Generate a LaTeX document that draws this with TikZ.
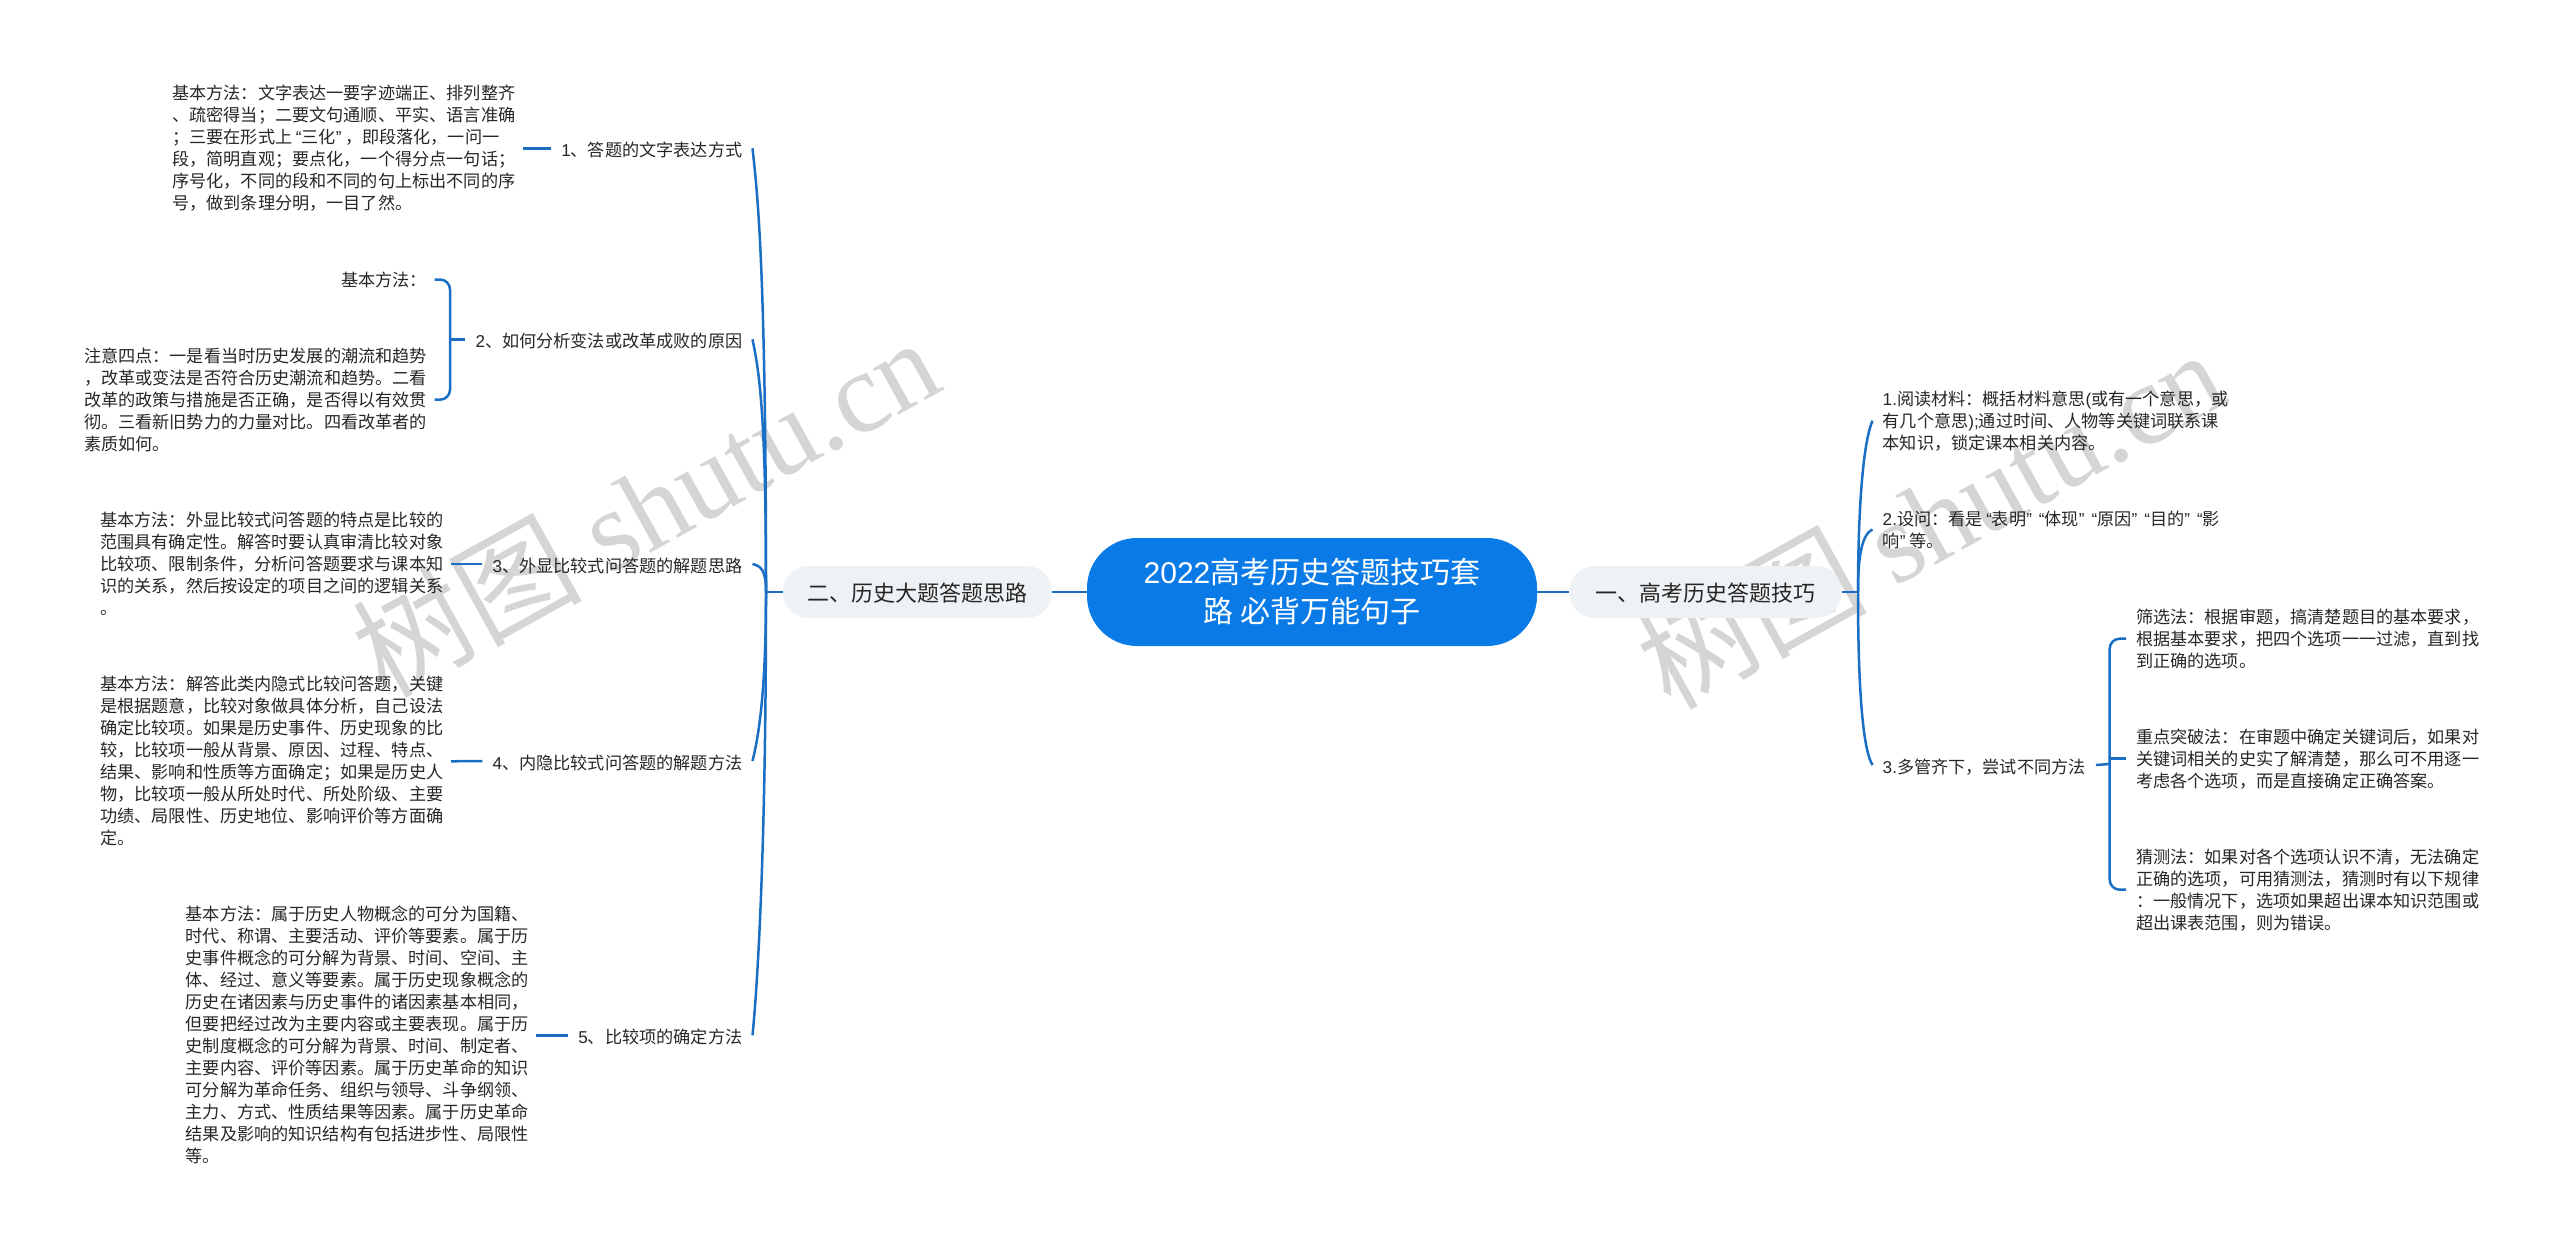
\documentclass[tikz,border=0pt]{standalone}
\usepackage{fontspec}
\setmainfont{Noto Sans CJK SC}
\newfontfamily\markfont{Liberation Serif}
\newfontfamily\latfont{Liberation Sans}
\newcommand{\lat}[1]{{\latfont #1}}
\newcommand{\oq}{\makebox[9.2pt][r]{\latfont “}}
\newcommand{\cq}{\makebox[9.2pt][l]{\latfont ”}}
\definecolor{linkblue}{HTML}{1A6FC4}
\definecolor{rootblue}{HTML}{0A7AE6}
\definecolor{pillgray}{HTML}{EFF2F5}
\definecolor{markgray}{HTML}{D5D5D5}
\tikzset{
	link/.style={draw=linkblue,line width=2.5pt},
	bracket/.style={link,rounded corners=10pt},
	txtblock/.style={inner xsep=7.5pt,inner ysep=0pt,align=left,font=\fontsize{17.15}{22}\selectfont,text=black!85},
	item/.style={txtblock,inner xsep=10pt},
	oneline/.style={item,text height=18pt,text depth=2pt},
	pill/.style={fill=pillgray,rounded corners=25pt,minimum height=52pt,inner sep=0pt,text height=22pt,text depth=3pt,font=\fontsize{22}{28}\selectfont,text=black!85},
	root/.style={fill=rootblue,text=white,rounded corners=50pt,minimum width=450pt,minimum height=108pt,inner sep=0pt,align=center,font=\fontsize{30}{39}\selectfont},
	watermark/.style={rotate=29,text=markgray,inner sep=0pt,font=\fontsize{115}{115}\selectfont}
}
\begin{document}
\begin{tikzpicture}[x=1pt,y=-1pt]
	\useasboundingbox (0,0) rectangle (2560,1250);
	\node[watermark] (markL) at (645,506) {树图 {\markfont shutu.cn}};
	\node[watermark] (markR) at (1930,518) {树图 {\markfont shutu.cn}};

	\node[root] (title) at (1312,592) {\lat{2022}高考历史答题技巧套\\路 必背万能句子};
	\node[pill,minimum width=272pt] (partOne) at (1705.5,592) {一、高考历史答题技巧};
	\node[pill,minimum width=269pt] (partTwo) at (917.5,592) {二、历史大题答题思路};
	\coordinate (busL) at (766,592);
	\coordinate (busR) at (1858,592);
	\draw[link] (partTwo.east) -- (title.west);
	\draw[link] (title.east) -- (partOne.west);
	\draw[link] (busL) -- (partTwo.west);
	\draw[link] (partOne.east) -- (busR);

	\node[oneline,anchor=east] (leftA) at (752.5,148.3) {\lat{1}、答题的文字表达方式};
	\node[oneline,anchor=east] (leftB) at (752.5,339.3) {\lat{2}、如何分析变法或改革成败的原因};
	\node[oneline,anchor=east] (leftC) at (752.5,564) {\lat{3}、外显比较式问答题的解题思路};
	\node[oneline,anchor=east] (leftD) at (752.5,761) {\lat{4}、内隐比较式问答题的解题方法};
	\node[oneline,anchor=east] (leftE) at (752.5,1035.3) {\lat{5}、比较项的确定方法};

	\draw[link] (busL) .. controls (766,260) and (757,190) .. (leftA.east);
	\draw[link] (busL) .. controls (766,420) and (760,375) .. (leftB.east);
	\draw[link] (busL) .. controls (766,570) and (761,566) .. (leftC.east);
	\draw[link] (busL) .. controls (766,690) and (759,735) .. (leftD.east);
	\draw[link] (busL) .. controls (766,860) and (757,990) .. (leftE.east);

	\node[txtblock,anchor=east] (textA) at (523,148.3) {基本方法：文字表达一要字迹端正、排列整齐\\
		、疏密得当；二要文句通顺、平实、语言准确\\
		；三要在形式上\oq 三化\cq ，即段落化，一问一\\
		段，简明直观；要点化，一个得分点一句话；\\
		序号化，不同的段和不同的句上标出不同的序\\
		号，做到条理分明，一目了然。};
	\node[txtblock,anchor=east] (methodB) at (434.7,279.5) {基本方法：};
	\node[txtblock,anchor=east] (noteB) at (434.7,399.7) {注意四点：一是看当时历史发展的潮流和趋势\\
		，改革或变法是否符合历史潮流和趋势。二看\\
		改革的政策与措施是否正确，是否得以有效贯\\
		彻。三看新旧势力的力量对比。四看改革者的\\
		素质如何。};
	\node[txtblock,anchor=east] (textC) at (451,564) {基本方法：外显比较式问答题的特点是比较的\\
		范围具有确定性。解答时要认真审清比较对象\\
		比较项、限制条件，分析问答题要求与课本知\\
		识的关系，然后按设定的项目之间的逻辑关系\\
		。};
	\node[txtblock,anchor=east] (textD) at (451,761.3) {基本方法：解答此类内隐式比较问答题，关键\\
		是根据题意，比较对象做具体分析，自己设法\\
		确定比较项。如果是历史事件、历史现象的比\\
		较，比较项一般从背景、原因、过程、特点、\\
		结果、影响和性质等方面确定；如果是历史人\\
		物，比较项一般从所处时代、所处阶级、主要\\
		功绩、局限性、历史地位、影响评价等方面确\\
		定。};
	\node[txtblock,anchor=east] (textE) at (536.4,1035.3) {基本方法：属于历史人物概念的可分为国籍、\\
		时代、称谓、主要活动、评价等要素。属于历\\
		史事件概念的可分解为背景、时间、空间、主\\
		体、经过、意义等要素。属于历史现象概念的\\
		历史在诸因素与历史事件的诸因素基本相同，\\
		但要把经过改为主要内容或主要表现。属于历\\
		史制度概念的可分解为背景、时间、制定者、\\
		主要内容、评价等因素。属于历史革命的知识\\
		可分解为革命任务、组织与领导、斗争纲领、\\
		主力、方式、性质结果等因素。属于历史革命\\
		结果及影响的知识结构有包括进步性、局限性\\
		等。};

	\draw[link] (leftA.west) -- (textA.east);
	\draw[link] (leftC.west) -- (textC.east);
	\draw[link] (leftD.west) -- (textD.east);
	\draw[link] (leftE.west) -- (textE.east);
	\coordinate (forkB) at (450,339.3);
	\draw[bracket] (methodB.east) -| (forkB) |- (noteB.east);
	\draw[link] (forkB) -- (leftB.west);

	\node[item,anchor=west] (rightA) at (1872.5,420.7) {\lat{1.}阅读材料：概括材料意思\lat{(}或有一个意思，或\\
		有几个意思\lat{);}通过时间、人物等关键词联系课\\
		本知识，锁定课本相关内容。};
	\node[item,anchor=west] (rightB) at (1872.5,529.5) {\lat{2.}设问：看是\oq 表明\cq\oq 体现\cq\oq 原因\cq\oq 目的\cq\oq 影\\
		响\cq 等。};
	\node[oneline,anchor=west] (rightC) at (1872.5,765) {\lat{3.}多管齐下，尝试不同方法};

	\draw[link] (busR) .. controls (1858,520) and (1862,445) .. (rightA.west);
	\draw[link] (busR) .. controls (1858,565) and (1860,535) .. (rightB.west);
	\draw[link] (busR) .. controls (1858,690) and (1863,750) .. (rightC.west);

	\node[item,anchor=west] (wayA) at (2126,638.7) {筛选法：根据审题，搞清楚题目的基本要求，\\
		根据基本要求，把四个选项一一过滤，直到找\\
		到正确的选项。};
	\node[item,anchor=west] (wayB) at (2126,758.7) {重点突破法：在审题中确定关键词后，如果对\\
		关键词相关的史实了解清楚，那么可不用逐一\\
		考虑各个选项，而是直接确定正确答案。};
	\node[item,anchor=west] (wayC) at (2126,889.7) {猜测法：如果对各个选项认识不清，无法确定\\
		正确的选项，可用猜测法，猜测时有以下规律\\
		：一般情况下，选项如果超出课本知识范围或\\
		超出课表范围，则为错误。};

	\coordinate (forkR) at (2109.7,764);
	\draw[link] (rightC.east) -- (forkR);
	\draw[bracket] (wayA.west) -| (forkR) |- (wayC.west);
	\draw[link] (forkR |- wayB.west) -- (wayB.west);
\end{tikzpicture}
\end{document}
